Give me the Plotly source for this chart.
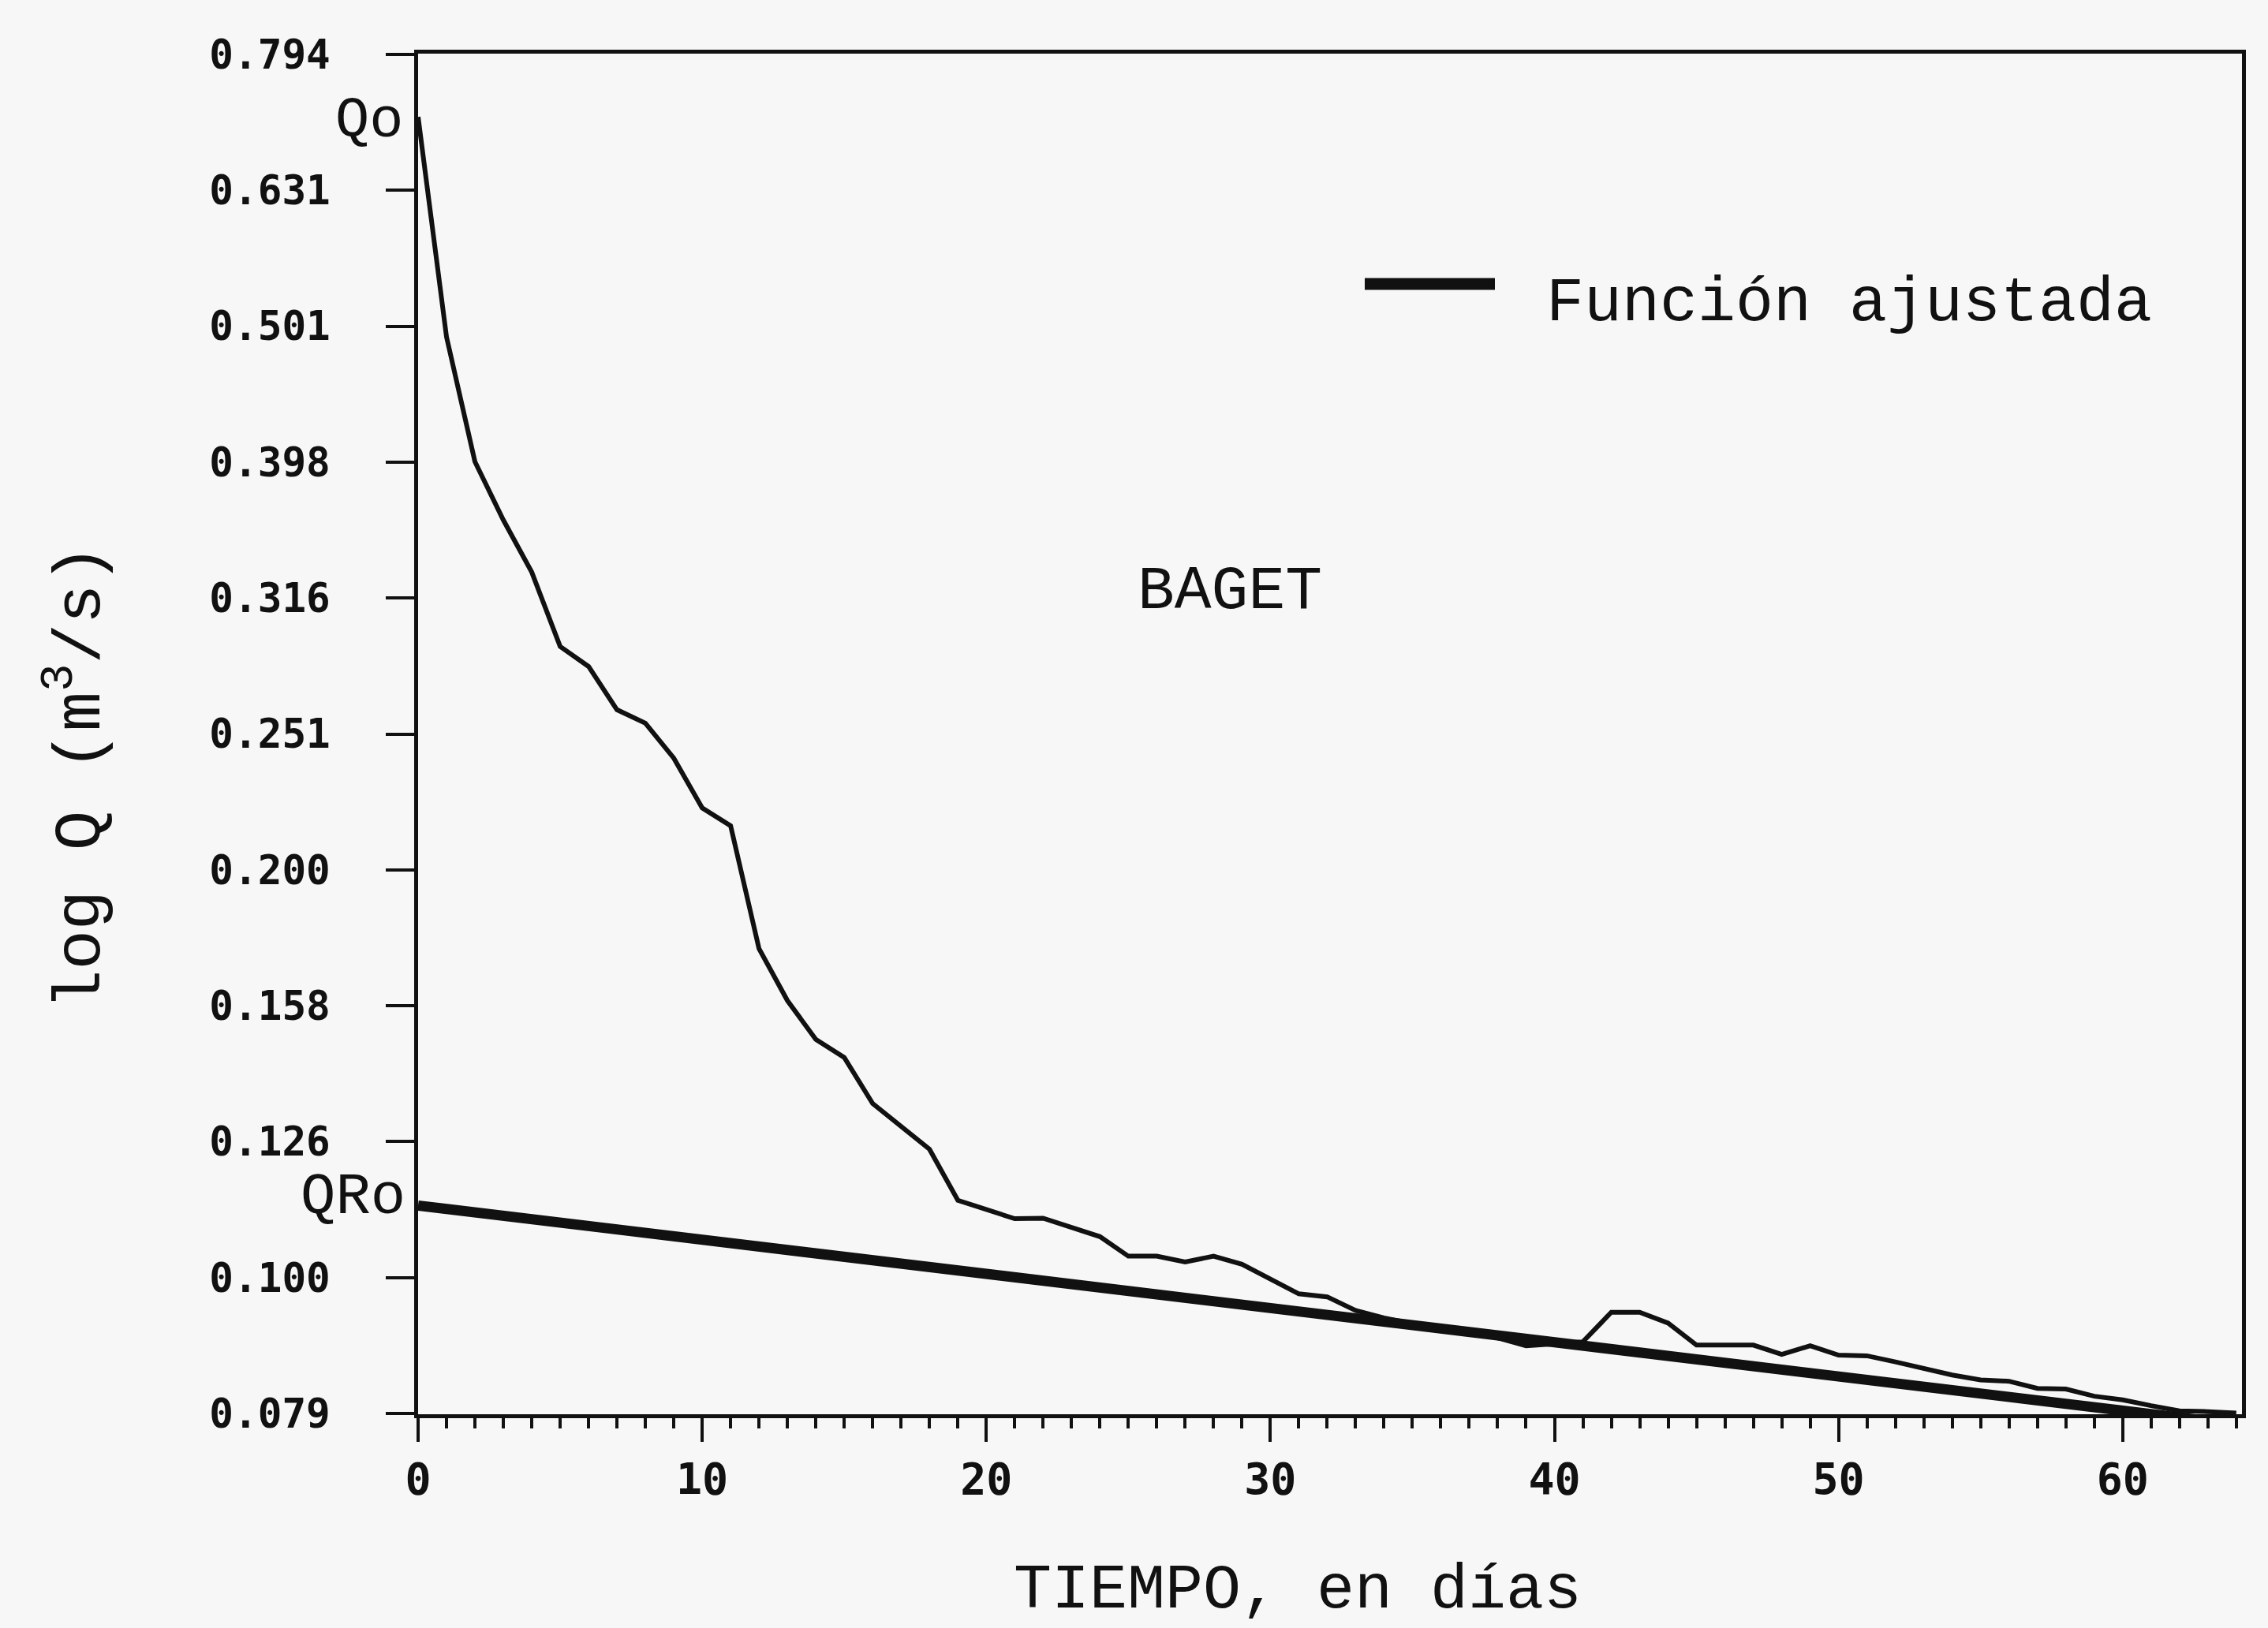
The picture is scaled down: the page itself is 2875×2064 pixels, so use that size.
import plotly.graph_objects as go

# ---- data ----
days = list(range(0, 65))
q_obs = [0.7145, 0.4922, 0.3984, 0.3609, 0.3304, 0.2913, 0.2816, 0.2617, 0.2558, 0.2411,
         0.2216, 0.2150, 0.1746, 0.1599, 0.1497, 0.1452, 0.1343, 0.1291, 0.1243, 0.1140,
         0.1122, 0.1105, 0.1106, 0.1088, 0.1072, 0.1037, 0.1037, 0.1027, 0.1037, 0.1023,
         0.0998, 0.0973, 0.0968, 0.0946, 0.0934, 0.0925, 0.0921, 0.0914, 0.0903, 0.0891,
         0.0894, 0.0897, 0.0943, 0.0943, 0.0926, 0.0892, 0.0892, 0.0892, 0.0878, 0.0891,
         0.0877, 0.0876, 0.0867, 0.0858, 0.0848, 0.0841, 0.0839, 0.0829, 0.0828, 0.0818,
         0.0813, 0.0805, 0.0798, 0.0797, 0.0795]

fit_days = [0, 64]
fit_q = [0.1130, 0.0780]

y_tick_exponents = [-0.1, -0.2, -0.3, -0.4, -0.5, -0.6, -0.7, -0.8, -0.9, -1.0, -1.1]
y_tick_labels = ["0.794", "0.631", "0.501", "0.398", "0.316", "0.251",
                 "0.200", "0.158", "0.126", "0.100", "0.079"]
x_tick_vals = [0, 10, 20, 30, 40, 50, 60]
x_tick_labels = ["0", "10", "20", "30", "40", "50", "60"]

# ---- figure ----
INK = "#111111"
BG = "#f7f7f7"
MONO_BOLD = "DejaVu Sans Mono"
TYPE = "Liberation Mono"

fig = go.Figure()
fig.add_trace(go.Scatter(x=fit_days, y=fit_q, mode="lines",
                         line=dict(color=INK, width=13), name="Función ajustada",
                         showlegend=False))
fig.add_trace(go.Scatter(x=days, y=q_obs, mode="lines",
                         line=dict(color=INK, width=6), name="BAGET",
                         showlegend=False))

W, H = 2875, 2064
L, R, T, B = 530, 33, 68, 271
pw, ph = W - L - R, H - T - B


def px(xf):
    return (xf - L) / pw


def py(yf):
    return (H - B - yf) / ph


fig.update_layout(
    width=W, height=H,
    margin=dict(l=L, r=R, t=T, b=B, pad=0),
    paper_bgcolor=BG, plot_bgcolor=BG,
    showlegend=False,
    xaxis=dict(
        range=[0, 64.2], showgrid=False, zeroline=False,
        showline=True, linecolor=INK, linewidth=5, mirror=True,
        ticks="outside", ticklen=30, tickwidth=4, tickcolor=INK,
        tickvals=x_tick_vals, ticktext=x_tick_labels,
        tickfont=dict(family=MONO_BOLD, size=55, color=INK, weight="bold"),
        ticklabelstandoff=0,
        minor=dict(dtick=1, tick0=0, ticks="outside", ticklen=13, tickwidth=4,
                   tickcolor=INK, showgrid=False),
    ),
    yaxis=dict(
        type="log", range=[-1.1005, -0.0995], showgrid=False, zeroline=False,
        showline=True, linecolor=INK, linewidth=5, mirror=True,
        ticks="outside", ticklen=36, tickwidth=4, tickcolor=INK,
        tickvals=[10 ** e for e in y_tick_exponents], ticktext=y_tick_labels,
        tickfont=dict(family=MONO_BOLD, size=51, color=INK, weight="bold"),
        ticklabelstandoff=60,
    ),
)

ann = [
    dict(text="TIEMPO, en días", x=px(1645), y=py(2016), size=80),
    dict(text="log Q (m<sup>3</sup>/s)", x=px(96), y=py(985), size=84, angle=-90),
    dict(text="BAGET", x=px(1559), y=py(750), size=78),
    dict(text="Qo", x=px(468), y=py(154), size=72),
    dict(text="QRo", x=px(447), y=py(1518), size=74),
]
for a in ann:
    fig.add_annotation(text=a["text"], x=a["x"], y=a["y"], xref="paper", yref="paper",
                       xanchor="center", yanchor="middle", showarrow=False,
                       textangle=a.get("angle", 0),
                       font=dict(family=TYPE, size=a["size"], color=INK))

# legend entry
fig.add_shape(type="line", xref="paper", yref="paper",
              x0=px(1730), x1=px(1895), y0=py(360), y1=py(360),
              line=dict(color=INK, width=15))
fig.add_annotation(text="Función ajustada", x=px(1958), y=py(384), xref="paper", yref="paper",
                   xanchor="left", yanchor="middle", showarrow=False,
                   font=dict(family=TYPE, size=80, color=INK))

fig.write_html("out.html")
